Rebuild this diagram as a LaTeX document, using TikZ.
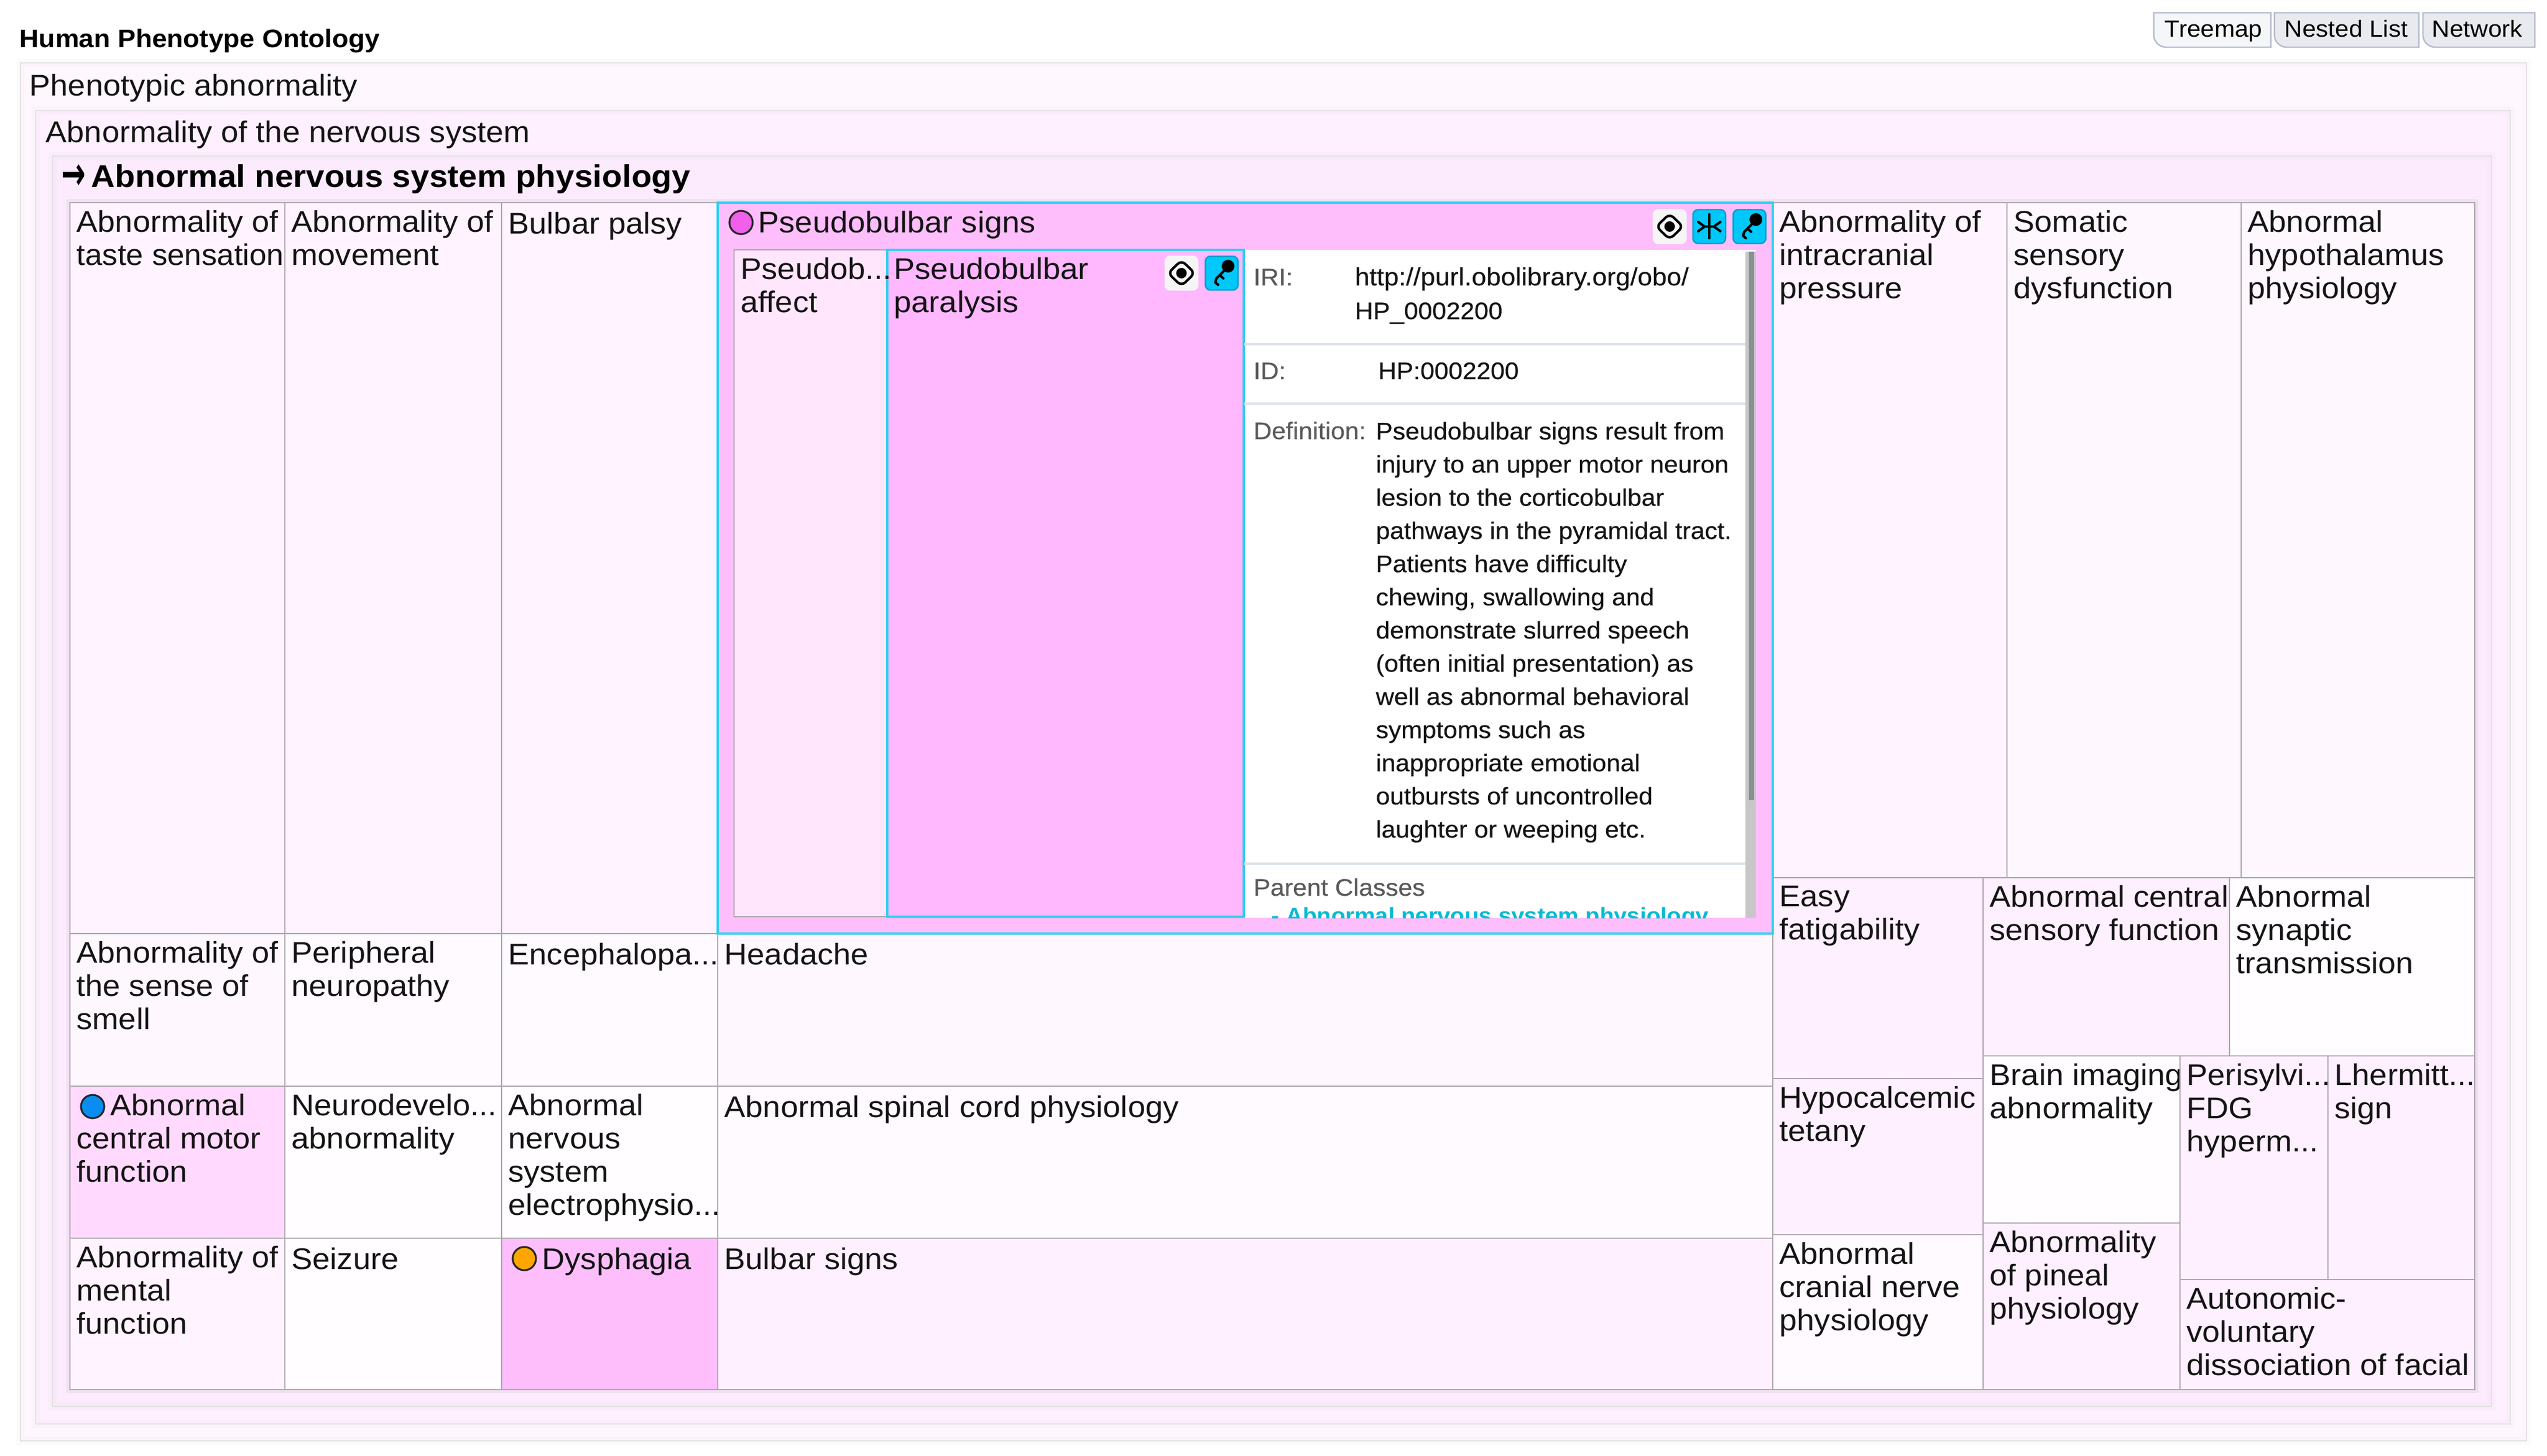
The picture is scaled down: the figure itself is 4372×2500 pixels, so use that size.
\documentclass[tikz,border=0pt]{standalone}
\usepackage{fontspec}
\setmainfont{Liberation Sans}[FakeStretch=1.055]
\newfontfamily\infofamily{Liberation Sans}[FakeStretch=1.055,FakeBold=0.35]
\newfontfamily\arrowfamily{DejaVu Sans Bold}
\usepackage{tikz}
\usetikzlibrary{calc}
\definecolor{panelA}{HTML}{FEF8FE}
\definecolor{panelB}{HTML}{FEF0FE}
\definecolor{panelC}{HTML}{FCEBFC}
\definecolor{pinkDeep}{HTML}{FDBEFB}
\definecolor{pinkHot}{HTML}{FFB7FE}
\definecolor{pinkMid}{HTML}{FFDAFE}
\definecolor{pinkSoft}{HTML}{FFE6FD}
\definecolor{tint0}{HTML}{FFFDFF}
\definecolor{tint1}{HTML}{FFFAFF}
\definecolor{tint2}{HTML}{FEF7FE}
\definecolor{tint3}{HTML}{FEF3FE}
\definecolor{tint4}{HTML}{FEF0FE}
\definecolor{cellline}{HTML}{ADA7AF}
\definecolor{skyline}{HTML}{2FD0F2}
\definecolor{skybtn}{HTML}{00C8FA}
\definecolor{sepline}{HTML}{DDE4EB}
\definecolor{linkcol}{HTML}{00BCD4}
\definecolor{greytext}{HTML}{5A5A5A}
\definecolor{dotpink}{HTML}{F060EA}
\definecolor{dotblue}{HTML}{0A8CF0}
\definecolor{dotorange}{HTML}{FFA500}
\definecolor{tabline}{HTML}{B5BCCB}
\definecolor{tabfirst}{HTML}{F4F6F8}
\definecolor{tabother}{HTML}{E8EAEF}
\definecolor{thumbcol}{HTML}{8A8F92}
\newcommand{\cellfont}{\fontsize{14.6}{16.2}\selectfont}
\newcommand{\infofont}{\infofamily\fontsize{11.7}{16.2}\selectfont}
\tikzset{
	panelbox/.style={fill=#1, draw=cellline!30, line width=0.6pt, postaction={draw=black!60, opacity=0.025, line width=4pt}},
	gridshadow/.style={draw=black!60, opacity=0.08, line width=3.5pt},
	cellrect/.style={draw=cellline, line width=0.8pt},
	skyrect/.style={draw=skyline, line width=1.1pt},
	celltext/.style={anchor=north west, inner sep=0pt, align=left, font=\cellfont, text=black!92, execute at begin node=\strut},
	infotext/.style={anchor=north west, inner sep=0pt, align=left, font=\infofont, text=black!92, execute at begin node=\strut},
	labeltext/.style={anchor=base west, inner sep=0pt, font=\infofont, text=greytext},
	valuetext/.style={anchor=base west, inner sep=0pt, font=\infofont, text=black!92},
	headtext/.style={anchor=base west, inner sep=0pt, font=\cellfont, text=black!92},
	tabtext/.style={anchor=base west, inner sep=0pt, font=\fontsize{11.4}{14}\selectfont},
	dotmark/.style={draw=black!85, line width=0.9pt},
	tabrect/.style={draw=tabline, line width=0.7pt},
	iconstroke/.style={draw=black, line width=1.2pt, line cap=round, line join=round},
}
\def\treecell(#1,#2)(#3,#4)#5#6#7{\draw[cellrect, fill=#5] (#1,#2) rectangle (#3,#4); \node[celltext] (#6) at ({#1+11},{#2+13}) {#7};}
\def\tabbtn(#1,#2)#3{\draw[tabrect, fill=#3] (#1,22) -- (#2,22) -- (#2,81) [rounded corners=6pt] -- (#1,81) [sharp corners] -- cycle;}
\def\btnface(#1,#2)#3{\draw[draw=black!20!#3, line width=0.7pt, fill=#3, rounded corners=2.5pt] ({#1-28},{#2-29}) rectangle ({#1+28},{#2+29});}
\def\diamondbtn(#1,#2){\btnface(#1,#2){black!4}
	\draw[iconstroke, rounded corners=2.5pt] ({#1-23},#2) -- (#1,{#2-22}) -- ({#1+23},#2) -- (#1,{#2+22}) -- cycle;
	\fill[black] (#1,#2) circle (9);}
\def\starbtn(#1,#2){\btnface(#1,#2){skybtn}
	\draw[iconstroke] (#1,{#2-21}) -- (#1,{#2+20});
	\draw[iconstroke] ({#1-8},#2) -- ({#1+8},#2);
	\draw[iconstroke] ({#1-19},{#2-8}) -- ({#1-8},#2) -- ({#1-19},{#2+8});
	\draw[iconstroke] ({#1+19},{#2-8}) -- ({#1+8},#2) -- ({#1+19},{#2+8});}
\def\keybtn(#1,#2){\btnface(#1,#2){skybtn}
	\fill[black] ({#1+11},{#2-12}) circle (11);
	\draw[iconstroke] ({#1+8},{#2-8}) -- ({#1-9},{#2+9}) -- ({#1-11},{#2+16}) -- ({#1-6},{#2+20});
	\draw[iconstroke] ({#1-3},{#2+4}) -- ({#1+3},{#2+9});}

\begin{document}
\begin{tikzpicture}[x=0.01cm,y=-0.01cm]
		%%%%% START %%%%%
		\useasboundingbox (0,0) rectangle (4372,2500);
		\fill[white] (0,0) rectangle (4372,2500);
		
		\node[anchor=base west, inner sep=0pt, font=\fontsize{12.4}{15}\selectfont\bfseries] (ontology) at (33,82) {Human Phenotype Ontology};
		
		\tabbtn(3697,3898){tabfirst}
		\tabbtn(3904,4152){tabother}
		\tabbtn(4159,4351){tabother}
		\node[tabtext] (treemap) at (3715,64) {Treemap};
		\node[tabtext] (nestedlist) at (3921,64) {Nested List};
		\node[tabtext] (network) at (4174,64) {Network};
		
		\draw[panelbox=panelA] (35,108) rectangle (4337,2474);
		\node[headtext] (phenotypic) at (50,165) {Phenotypic abnormality};
		\draw[panelbox=panelB] (61,190) rectangle (4309,2445);
		\node[headtext] (nervous) at (78,245) {Abnormality of the nervous system};
		\draw[panelbox=panelC] (90,268) rectangle (4277,2415);
		\node[anchor=base west, inner sep=0pt, font=\arrowfamily\fontsize{14.2}{16}\selectfont, yscale=1.6, transform shape] (arrowmark) at (105,325) {→};
		\node[anchor=base west, inner sep=0pt, font=\fontsize{15.3}{18}\selectfont\bfseries] (physiology) at (156,321) {Abnormal nervous system physiology};
		\draw[gridshadow] (120,348) rectangle (4248,2386);
		
		% left columns
		\treecell(120,348)(489,1603){tint3}{taste}{Abnormality of\\{\addfontfeature{FakeStretch=1.03}taste sensation}}
		\treecell(489,348)(861,1603){tint3}{movement}{Abnormality of\\movement}
		\treecell(861,348)(1232,1603){tint3}{palsy}{Bulbar palsy}
		\treecell(120,1603)(489,1865){tint2}{smell}{Abnormality of\\the sense of\\smell}
		\treecell(489,1603)(861,1865){tint1}{neuropathy}{Peripheral\\neuropathy}
		\treecell(861,1603)(1232,1865){tint1}{encephalopa}{Encephalopa...}
		\treecell(1232,1603)(3043,1865){tint2}{headache}{Headache}
		\treecell(120,1865)(489,2126){pinkMid}{motor}{\hspace*{16.5pt}Abnormal\\central motor\\function}
		\treecell(489,1865)(861,2126){tint0}{neurodevelo}{Neurodevelo...\\abnormality}
		\treecell(861,1865)(1232,2126){tint0}{electro}{Abnormal\\nervous\\system\\electrophysio...}
		\treecell(1232,1865)(3043,2126){tint1}{spinal}{Abnormal spinal cord physiology}
		\treecell(120,2126)(489,2386){tint3}{mental}{Abnormality of\\mental\\function}
		\treecell(489,2126)(861,2386){tint0}{seizure}{Seizure}
		\treecell(861,2126)(1232,2386){pinkDeep}{dysphagia}{\hspace*{16.5pt}Dysphagia}
		\treecell(1232,2126)(3043,2386){tint4}{bulbarsigns}{Bulbar signs}
		
		% right columns
		\treecell(3043,348)(3445,1507){tint3}{intracranial}{Abnormality of\\intracranial\\pressure}
		\treecell(3445,348)(3847,1507){tint2}{somatic}{Somatic\\sensory\\dysfunction}
		\treecell(3847,348)(4248,1507){tint2}{hypothalamus}{Abnormal\\hypothalamus\\physiology}
		\treecell(3043,1507)(3404,1852){tint4}{fatigability}{Easy\\fatigability}
		\treecell(3043,1852)(3404,2120){tint4}{tetany}{Hypocalcemic\\tetany}
		\treecell(3043,2120)(3404,2386){tint1}{cranial}{Abnormal\\cranial nerve\\physiology}
		\treecell(3404,1507)(3827,1813){tint4}{sensory}{Abnormal central\\sensory function}
		\treecell(3827,1507)(4248,1813){tint0}{synaptic}{Abnormal\\synaptic\\transmission}
		\treecell(3404,1813)(3742,2100){tint0}{imaging}{Brain imaging\\abnormality}
		\treecell(3404,2100)(3742,2386){tint4}{pineal}{Abnormality\\of pineal\\physiology}
		\treecell(3742,1813)(3996,2197){tint4}{perisylvi}{Perisylvi...\\FDG\\hyperm...}
		\treecell(3996,1813)(4248,2197){tint4}{lhermitt}{Lhermitt...\\sign}
		\treecell(3742,2197)(4248,2386){tint4}{autonomic}{Autonomic-\\voluntary\\dissociation of facial}
		
		% selected box
		\draw[skyrect, fill=pinkDeep] (1232,348) rectangle (3043,1603);
		\node[celltext] (pseudosigns) at (1243,359) {\hspace*{16.5pt}Pseudobulbar signs};
		\draw[cellrect, fill=pinkSoft] (1260,429) rectangle (1523,1574);
		\fill[white] (2136,429) rectangle (3014,1576);
		\draw[skyrect, fill=pinkHot] (1523,429) rectangle (2135,1574);
		\node[celltext] (pseudoaffect) at (1271,442) {Pseudob...\\affect};
		\node[celltext] (pseudoparalysis) at (1534,442) {Pseudobulbar\\paralysis};
		
		\draw[dotmark, fill=dotpink] (1272,382) circle (20);
		\draw[dotmark, fill=dotblue] (159,1900) circle (20);
		\draw[dotmark, fill=dotorange] (900,2161) circle (20);
		
		\diamondbtn(2866,389)
		\starbtn(2934,389)
		\keybtn(3003,389)
		\diamondbtn(2028,469)
		\keybtn(2097,469)
		
		% info panel
		\fill[black!22] (2996,432) rectangle (3014,1576);
		\fill[thumbcol] (3002,432) rectangle (3011,1374);
		\draw[sepline, line width=0.9pt] (2136,591) -- (2996,591);
		\draw[sepline, line width=0.9pt] (2136,693) -- (2996,693);
		\draw[sepline, line width=0.9pt] (2136,1483) -- (2996,1483);
		\node[labeltext] (irilabel) at (2151,490) {IRI:};
		\node[valuetext, font=\infofamily\fontsize{12.15}{16.2}\selectfont] (irivalue) at (2325,490) {http://purl.obolibrary.org/obo/};
		\node[valuetext] (irivaluetwo) at (2325,548) {HP\_0002200};
		\node[labeltext] (idlabel) at (2151,651) {ID:};
		\node[valuetext] (idvalue) at (2365,651) {HP:0002200};
		\node[labeltext] (deflabel) at (2151,754) {Definition:};
		\node[infotext] (defvalue) at (2361,724) {Pseudobulbar signs result from\\injury to an upper motor neuron\\lesion to the corticobulbar\\pathways in the pyramidal tract.\\Patients have difficulty\\chewing, swallowing and\\demonstrate slurred speech\\(often initial presentation) as\\well as abnormal behavioral\\symptoms such as\\inappropriate emotional\\outbursts of uncontrolled\\laughter or weeping etc.};
		\node[labeltext] (parentlabel) at (2151,1538) {Parent Classes};
		\begin{scope}
			\clip (2136,1483) rectangle (2996,1576);
			\node[valuetext, text=linkcol, font=\fontsize{10.8}{16}\selectfont\bfseries] (parentlink) at (2182,1585) {- Abnormal nervous system physiology};
		\end{scope}
		
		%%%%% END %%%%%
\end{tikzpicture}
\end{document}
